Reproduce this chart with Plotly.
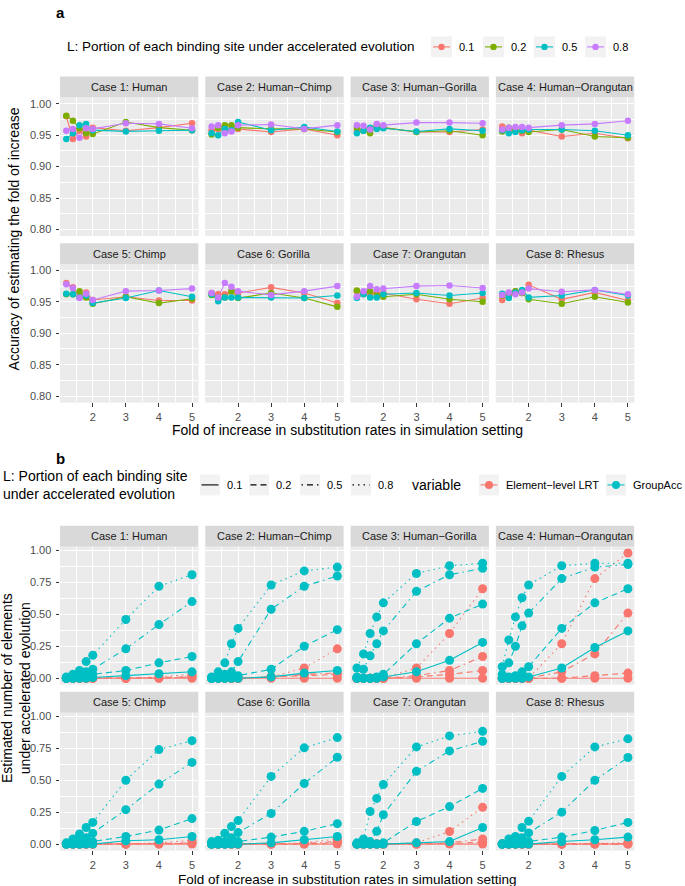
import plotly.graph_objects as go

W, H = 685, 886

# ---------------- data ----------------
x_fold = [1.2, 1.4, 1.6, 1.8, 2, 3, 4, 5]
case_names = ["Case 1: Human", "Case 2: Human\u2212Chimp", "Case 3: Human\u2212Gorilla",
              "Case 4: Human\u2212Orangutan", "Case 5: Chimp", "Case 6: Gorilla",
              "Case 7: Orangutan", "Case 8: Rhesus"]
L_levels = ["0.1", "0.2", "0.5", "0.8"]
L_colors = ["#F8766D", "#7CAE00", "#00BFC4", "#C77CFF"]
methods = ["Element\u2212level LRT", "GroupAcc"]
method_colors = ["#F8766D", "#00BFC4"]

# panel a: accuracy of estimating the fold of increase, rows = L 0.1, 0.2, 0.5, 0.8
acc_case1 = [[0.980, 0.944, 0.957, 0.948, 0.962, 0.957, 0.962, 0.969],
             [0.981, 0.973, 0.961, 0.953, 0.952, 0.971, 0.962, 0.958],
             [0.944, 0.953, 0.966, 0.968, 0.958, 0.956, 0.957, 0.958],
             [0.957, 0.960, 0.946, 0.961, 0.960, 0.969, 0.968, 0.961]]
acc_case2 = [[0.958, 0.960, 0.958, 0.960, 0.960, 0.955, 0.960, 0.950],
             [0.951, 0.962, 0.966, 0.966, 0.962, 0.960, 0.960, 0.955],
             [0.953, 0.950, 0.960, 0.958, 0.971, 0.958, 0.963, 0.956],
             [0.964, 0.966, 0.953, 0.956, 0.966, 0.967, 0.960, 0.966]]
acc_case3 = [[0.957, 0.959, 0.960, 0.964, 0.962, 0.955, 0.955, 0.959],
             [0.962, 0.957, 0.953, 0.965, 0.962, 0.955, 0.957, 0.950],
             [0.953, 0.957, 0.962, 0.960, 0.961, 0.956, 0.960, 0.957],
             [0.966, 0.965, 0.959, 0.968, 0.966, 0.970, 0.970, 0.969]]
acc_case4 = [[0.964, 0.958, 0.960, 0.953, 0.958, 0.948, 0.953, 0.945],
             [0.956, 0.962, 0.957, 0.957, 0.955, 0.959, 0.948, 0.946],
             [0.958, 0.953, 0.955, 0.958, 0.959, 0.959, 0.957, 0.950],
             [0.959, 0.962, 0.963, 0.963, 0.962, 0.966, 0.968, 0.973]]
acc_case5 = [[0.980, 0.973, 0.958, 0.965, 0.953, 0.958, 0.952, 0.952],
             [0.962, 0.962, 0.967, 0.957, 0.947, 0.958, 0.948, 0.955],
             [0.963, 0.962, 0.957, 0.960, 0.948, 0.956, 0.968, 0.958],
             [0.978, 0.972, 0.956, 0.963, 0.953, 0.967, 0.968, 0.971]]
acc_case6 = [[0.964, 0.962, 0.962, 0.967, 0.964, 0.973, 0.964, 0.948],
             [0.961, 0.956, 0.957, 0.967, 0.956, 0.964, 0.956, 0.942],
             [0.962, 0.951, 0.957, 0.957, 0.957, 0.957, 0.956, 0.960],
             [0.964, 0.957, 0.980, 0.974, 0.967, 0.961, 0.967, 0.975]]
acc_case7 = [[0.967, 0.962, 0.964, 0.964, 0.964, 0.954, 0.947, 0.956],
             [0.968, 0.964, 0.967, 0.960, 0.958, 0.962, 0.954, 0.950],
             [0.956, 0.962, 0.957, 0.957, 0.962, 0.964, 0.960, 0.964],
             [0.958, 0.967, 0.975, 0.970, 0.971, 0.975, 0.976, 0.972]]
acc_case8 = [[0.953, 0.960, 0.967, 0.964, 0.977, 0.954, 0.965, 0.952],
             [0.960, 0.964, 0.967, 0.964, 0.954, 0.947, 0.958, 0.949],
             [0.963, 0.956, 0.965, 0.969, 0.957, 0.960, 0.969, 0.960],
             [0.961, 0.965, 0.962, 0.965, 0.971, 0.966, 0.969, 0.962]]
acc_cases = [acc_case1, acc_case2, acc_case3, acc_case4,
             acc_case5, acc_case6, acc_case7, acc_case8]

# panel b: estimated number of elements under accelerated evolution
lrt_case1 = [[0, 0, 0, 0, 0, 0, 0, 0],
             [0, 0, 0, 0, 0, 0, 0.005, 0.01],
             [0, 0, 0, 0, 0, 0, 0, 0.01],
             [0, 0, 0, 0, 0, 0, 0.01, 0.03]]
grp_case1 = [[0, 0, 0, 0, 0.005, 0.02, 0.035, 0.05],
             [0, 0, 0.01, 0.02, 0.03, 0.06, 0.12, 0.17],
             [0, 0.01, 0.03, 0.05, 0.07, 0.23, 0.42, 0.60],
             [0.01, 0.03, 0.06, 0.13, 0.18, 0.46, 0.72, 0.81]]
lrt_case2 = [[0, 0, 0, 0, 0, 0, 0, 0],
             [0, 0, 0, 0, 0, 0.01, 0.02, 0.03],
             [0, 0, 0, 0, 0, 0.01, 0.03, 0.04],
             [0, 0, 0, 0, 0, 0.01, 0.08, 0.23]]
grp_case2 = [[0, 0, 0, 0, 0, 0.01, 0.04, 0.06],
             [0, 0, 0, 0.01, 0.02, 0.07, 0.25, 0.38],
             [0, 0.01, 0.03, 0.05, 0.13, 0.54, 0.72, 0.80],
             [0.01, 0.05, 0.12, 0.27, 0.39, 0.73, 0.84, 0.87]]
lrt_case3 = [[0, 0, 0, 0, 0, 0, 0, 0],
             [0, 0, 0, 0, 0, 0.01, 0.03, 0.06],
             [0, 0, 0, 0, 0, 0.02, 0.06, 0.17],
             [0, 0, 0, 0, 0, 0.08, 0.35, 0.70]]
grp_case3 = [[0, 0, 0, 0, 0.01, 0.05, 0.14, 0.28],
             [0, 0, 0, 0.01, 0.03, 0.27, 0.47, 0.58],
             [0.01, 0.07, 0.175, 0.27, 0.37, 0.68, 0.81, 0.86],
             [0.08, 0.19, 0.35, 0.48, 0.59, 0.82, 0.88, 0.90]]
lrt_case4 = [[0, 0, 0, 0, 0, 0, 0, 0],
             [0, 0, 0, 0, 0, 0.0, 0.02, 0.04],
             [0, 0, 0, 0, 0, 0.05, 0.19, 0.51],
             [0, 0, 0, 0, 0, 0.27, 0.78, 0.98]]
grp_case4 = [[0, 0, 0, 0, 0.01, 0.08, 0.24, 0.37],
             [0, 0.01, 0.02, 0.05, 0.09, 0.39, 0.59, 0.70],
             [0.03, 0.12, 0.25, 0.41, 0.51, 0.78, 0.87, 0.89],
             [0.09, 0.30, 0.48, 0.63, 0.73, 0.88, 0.90, 0.90]]
lrt_case5 = [[0, 0, 0, 0, 0, 0, 0, 0],
             [0, 0, 0, 0, 0, 0, 0, 0.005],
             [0, 0, 0, 0, 0, 0, 0.005, 0.01],
             [0, 0, 0, 0, 0, 0, 0.01, 0.03]]
grp_case5 = [[0, 0, 0, 0, 0, 0.026, 0.034, 0.06],
             [0, 0, 0, 0.01, 0.02, 0.06, 0.11, 0.20],
             [0, 0.01, 0.03, 0.05, 0.086, 0.27, 0.47, 0.64],
             [0.01, 0.04, 0.08, 0.13, 0.17, 0.50, 0.74, 0.81]]
lrt_case6 = [[0, 0, 0, 0, 0, 0, 0, 0],
             [0, 0, 0, 0, 0, 0, 0, 0.01],
             [0, 0, 0, 0, 0, 0, 0.005, 0.02],
             [0, 0, 0, 0, 0, 0, 0.01, 0.04]]
grp_case6 = [[0, 0, 0, 0, 0, 0.01, 0.034, 0.06],
             [0, 0, 0, 0.01, 0.02, 0.055, 0.10, 0.16],
             [0, 0.01, 0.02, 0.05, 0.09, 0.24, 0.475, 0.68],
             [0.02, 0.03, 0.086, 0.137, 0.184, 0.53, 0.754, 0.834]]
lrt_case7 = [[0, 0, 0, 0, 0, 0, 0, 0],
             [0, 0, 0, 0, 0, 0, 0.005, 0.015],
             [0, 0, 0, 0, 0, 0, 0.01, 0.04],
             [0, 0, 0, 0, 0, 0.01, 0.099, 0.288]]
grp_case7 = [[0, 0, 0, 0, 0, 0.01, 0.02, 0.13],
             [0, 0, 0, 0, 0.01, 0.177, 0.294, 0.436],
             [0, 0.03, 0.02, 0.10, 0.23, 0.57, 0.73, 0.805],
             [0.01, 0.04, 0.255, 0.358, 0.467, 0.761, 0.847, 0.883]]
lrt_case8 = [[0, 0, 0, 0, 0, 0, 0, 0],
             [0, 0, 0, 0, 0, 0, 0, 0],
             [0, 0, 0, 0, 0, 0, 0, 0.005],
             [0, 0, 0, 0, 0, 0, 0.005, 0.01]]
grp_case8 = [[0, 0, 0, 0, 0, 0.02, 0.034, 0.055],
             [0, 0, 0, 0.01, 0.02, 0.055, 0.107, 0.17],
             [0, 0.01, 0.03, 0.05, 0.088, 0.25, 0.50, 0.678],
             [0.0, 0.04, 0.06, 0.13, 0.18, 0.53, 0.761, 0.824]]
lrt_cases = [lrt_case1, lrt_case2, lrt_case3, lrt_case4,
             lrt_case5, lrt_case6, lrt_case7, lrt_case8]
grp_cases = [grp_case1, grp_case2, grp_case3, grp_case4,
             grp_case5, grp_case6, grp_case7, grp_case8]

# ---------------- styling / geometry ----------------
FONT = "Liberation Sans, Arial, sans-serif"
TICK_COL = "#4D4D4D"
PANEL_BG = "#EBEBEB"
STRIP_BG = "#D9D9D9"
L_dash = ["solid", "6px,4px", "1.5px,4px,6px,4px", "1.5px,4px"]

col_x0 = [60 + i * 145.3 for i in range(4)]
PW = 138.3
STRIP_H = 21
PH_A = 138.6
PH_B = 138.0
strip_top_a = [74.7, 241.7]
strip_top_b = [525.0, 691.3]


def fx(px):
    return px / W


def fy(py):
    return 1 - py / H


fig = go.Figure()
layout_axes = {}
shapes = []
annotations = []


def add_axes(k, col, row, strip_tops, ph, yrange, yticks, yminor, last_row):
    x0 = col_x0[col]
    ps = strip_tops[row] + STRIP_H
    pe = ps + ph
    xa = dict(domain=[fx(x0), fx(x0 + PW)], range=[1.01, 5.19],
              tickmode="array", tickvals=[2, 3, 4, 5], ticktext=["2", "3", "4", "5"],
              showticklabels=last_row, ticks="outside" if last_row else "",
              ticklen=3.5, tickwidth=1, tickcolor="#333333", ticklabelstandoff=1,
              tickfont=dict(family=FONT, size=11, color=TICK_COL),
              showgrid=True, gridcolor="white", gridwidth=1.3,
              minor=dict(tickmode="array", tickvals=[1.5, 2.5, 3.5, 4.5],
                         showgrid=True, gridcolor="white", gridwidth=0.6),
              zeroline=False, showline=False, anchor="y%d" % k, fixedrange=True)
    ya = dict(domain=[fy(pe), fy(ps)], range=yrange,
              tickmode="array", tickvals=yticks, ticktext=["%.2f" % v for v in yticks],
              showticklabels=(col == 0), ticks="outside" if col == 0 else "",
              ticklen=3.5, tickwidth=1, tickcolor="#333333", ticklabelstandoff=2,
              tickfont=dict(family=FONT, size=11, color=TICK_COL),
              showgrid=True, gridcolor="white", gridwidth=1.3,
              minor=dict(tickmode="array", tickvals=yminor,
                         showgrid=True, gridcolor="white", gridwidth=0.6),
              zeroline=False, showline=False, anchor="x%d" % k, fixedrange=True)
    layout_axes["xaxis%d" % k] = xa
    layout_axes["yaxis%d" % k] = ya
    st = strip_tops[row]
    shapes.append(dict(type="rect", xref="paper", yref="paper",
                       x0=fx(x0), x1=fx(x0 + PW), y0=fy(st + STRIP_H), y1=fy(st),
                       fillcolor=STRIP_BG, line=dict(width=0), layer="below"))
    shapes.append(dict(type="rect", xref="paper", yref="paper",
                       x0=fx(x0), x1=fx(x0 + PW), y0=fy(pe), y1=fy(ps),
                       fillcolor=PANEL_BG, line=dict(width=0), layer="below"))


# ----- panel a -----
for ci in range(8):
    k = ci + 1
    col, row = ci % 4, ci // 4
    add_axes(k, col, row, strip_top_a, PH_A, [0.79, 1.01],
             [0.80, 0.85, 0.90, 0.95, 1.00], [0.825, 0.875, 0.925, 0.975], row == 1)
    annotations.append(dict(text=case_names[ci], xref="paper", yref="paper",
                            x=fx(col_x0[col] + PW / 2), y=fy(strip_top_a[row] + STRIP_H / 2),
                            showarrow=False, xanchor="center", yanchor="middle",
                            font=dict(family=FONT, size=11, color="#1A1A1A")))
    vals = acc_cases[ci]
    for li in range(4):
        fig.add_trace(go.Scatter(x=x_fold, y=vals[li], mode="lines",
                                 line=dict(color=L_colors[li], width=1.1),
                                 xaxis="x%d" % k, yaxis="y%d" % k, showlegend=False,
                                 hoverinfo="skip"))
    for li in range(4):
        fig.add_trace(go.Scatter(x=x_fold, y=vals[li], mode="markers",
                                 marker=dict(color=L_colors[li], size=6.5, line=dict(width=0)),
                                 xaxis="x%d" % k, yaxis="y%d" % k, showlegend=False,
                                 name=L_levels[li]))

# ----- panel b -----
for ci in range(8):
    k = ci + 9
    col, row = ci % 4, ci // 4
    add_axes(k, col, row, strip_top_b, PH_B, [-0.049, 1.029],
             [0, 0.25, 0.5, 0.75, 1.0], [0.125, 0.375, 0.625, 0.875], row == 1)
    annotations.append(dict(text=case_names[ci], xref="paper", yref="paper",
                            x=fx(col_x0[col] + PW / 2), y=fy(strip_top_b[row] + STRIP_H / 2),
                            showarrow=False, xanchor="center", yanchor="middle",
                            font=dict(family=FONT, size=11, color="#1A1A1A")))
    series = [lrt_cases[ci], grp_cases[ci]]
    for mi in range(2):
        for li in range(4):
            fig.add_trace(go.Scatter(x=x_fold, y=series[mi][li], mode="lines",
                                     line=dict(color=method_colors[mi], width=1.1, dash=L_dash[li]),
                                     xaxis="x%d" % k, yaxis="y%d" % k, showlegend=False,
                                     hoverinfo="skip"))
    for mi in range(2):
        for li in range(4):
            fig.add_trace(go.Scatter(x=x_fold, y=series[mi][li], mode="markers",
                                     marker=dict(color=method_colors[mi], size=9, line=dict(width=0)),
                                     xaxis="x%d" % k, yaxis="y%d" % k, showlegend=False,
                                     name=methods[mi] + " " + L_levels[li]))


# ----- axis titles and tags -----
def text_ann(txt, x, y, size=14, angle=0, xanchor="center", bold=False, color="black", align="center"):
    annotations.append(dict(text=("<b>%s</b>" % txt) if bold else txt, xref="paper", yref="paper",
                            x=fx(x), y=fy(y), showarrow=False, xanchor=xanchor, yanchor="middle",
                            textangle=angle, align=align, borderpad=0,
                            font=dict(family=FONT, size=size, color=color)))


panel_cx = (col_x0[0] + col_x0[3] + PW) / 2
text_ann("a", 55, 11, size=15, bold=True, xanchor="left")
text_ann("Fold of increase in substitution rates in simulation setting", panel_cx, 429)
text_ann("Accuracy of estimating the fold of increase", 14,
         (strip_top_a[0] + strip_top_a[1] + STRIP_H + PH_A) / 2, angle=-90)
text_ann("b", 55, 458, size=15, bold=True, xanchor="left")
text_ann("Fold of increase in substitution rates in simulation setting", panel_cx, 879.5,
         size=13.5)
text_ann("Estimated number of elements<br>under accelerated evolution", 16,
         (strip_top_b[0] + strip_top_b[1] + STRIP_H + PH_B) / 2, angle=-90)

# ----- legend a (manual) -----
LEG_A_Y = 45
text_ann("L: Portion of each binding site under accelerated evolution", 66, LEG_A_Y,
         size=13.5, xanchor="left")
key_xa = [431, 483, 534, 585]
for li, kx in enumerate(key_xa):
    shapes.append(dict(type="rect", xref="paper", yref="paper", x0=fx(kx), x1=fx(kx + 21),
                       y0=fy(LEG_A_Y + 10.5), y1=fy(LEG_A_Y - 10.5),
                       fillcolor="#F2F2F2", line=dict(width=0)))
    shapes.append(dict(type="line", xref="paper", yref="paper", x0=fx(kx + 2), x1=fx(kx + 19),
                       y0=fy(LEG_A_Y), y1=fy(LEG_A_Y), line=dict(color=L_colors[li], width=1.1)))
    shapes.append(dict(type="circle", xref="paper", yref="paper", x0=fx(kx + 10.5 - 3.2),
                       x1=fx(kx + 10.5 + 3.2), y0=fy(LEG_A_Y + 3.2), y1=fy(LEG_A_Y - 3.2),
                       fillcolor=L_colors[li], line=dict(width=0)))
    text_ann(L_levels[li], kx + 27, LEG_A_Y, size=11, xanchor="left")

# ----- legend b (manual) -----
LEG_B_Y = 484
text_ann("L: Portion of each binding site<br>under accelerated evolution", 2, LEG_B_Y,
         xanchor="left", align="left")
key_xb = [200, 249, 300, 351]
for li, kx in enumerate(key_xb):
    shapes.append(dict(type="rect", xref="paper", yref="paper", x0=fx(kx), x1=fx(kx + 20),
                       y0=fy(LEG_B_Y + 10.5), y1=fy(LEG_B_Y - 10.5),
                       fillcolor="#F2F2F2", line=dict(width=0)))
    shapes.append(dict(type="line", xref="paper", yref="paper", x0=fx(kx + 1.5), x1=fx(kx + 18.5),
                       y0=fy(LEG_B_Y), y1=fy(LEG_B_Y),
                       line=dict(color="black", width=1.1, dash=L_dash[li])))
    text_ann(L_levels[li], kx + 26, LEG_B_Y, size=11, xanchor="left")

text_ann("variable", 411, LEG_B_Y, xanchor="left")
key_xm = [479, 606]
for mi, kx in enumerate(key_xm):
    shapes.append(dict(type="rect", xref="paper", yref="paper", x0=fx(kx), x1=fx(kx + 20),
                       y0=fy(LEG_B_Y + 10.5), y1=fy(LEG_B_Y - 10.5),
                       fillcolor="#F2F2F2", line=dict(width=0)))
    shapes.append(dict(type="line", xref="paper", yref="paper", x0=fx(kx + 1.5), x1=fx(kx + 18.5),
                       y0=fy(LEG_B_Y), y1=fy(LEG_B_Y), line=dict(color=method_colors[mi], width=1.1)))
    shapes.append(dict(type="circle", xref="paper", yref="paper", x0=fx(kx + 10 - 4),
                       x1=fx(kx + 10 + 4), y0=fy(LEG_B_Y + 4), y1=fy(LEG_B_Y - 4),
                       fillcolor=method_colors[mi], line=dict(width=0)))
    text_ann(methods[mi], kx + 26, LEG_B_Y, size=11, xanchor="left")

fig.update_layout(width=W, height=H, autosize=False,
                  margin=dict(l=0, r=0, t=0, b=0),
                  paper_bgcolor="white", plot_bgcolor=PANEL_BG,
                  font=dict(family=FONT, size=11, color="black"),
                  showlegend=False, shapes=shapes, annotations=annotations,
                  **layout_axes)

fig.write_html("out.html", config={"displayModeBar": False},
               post_script="document.body.style.margin='0px';document.body.style.overflow='hidden';")
